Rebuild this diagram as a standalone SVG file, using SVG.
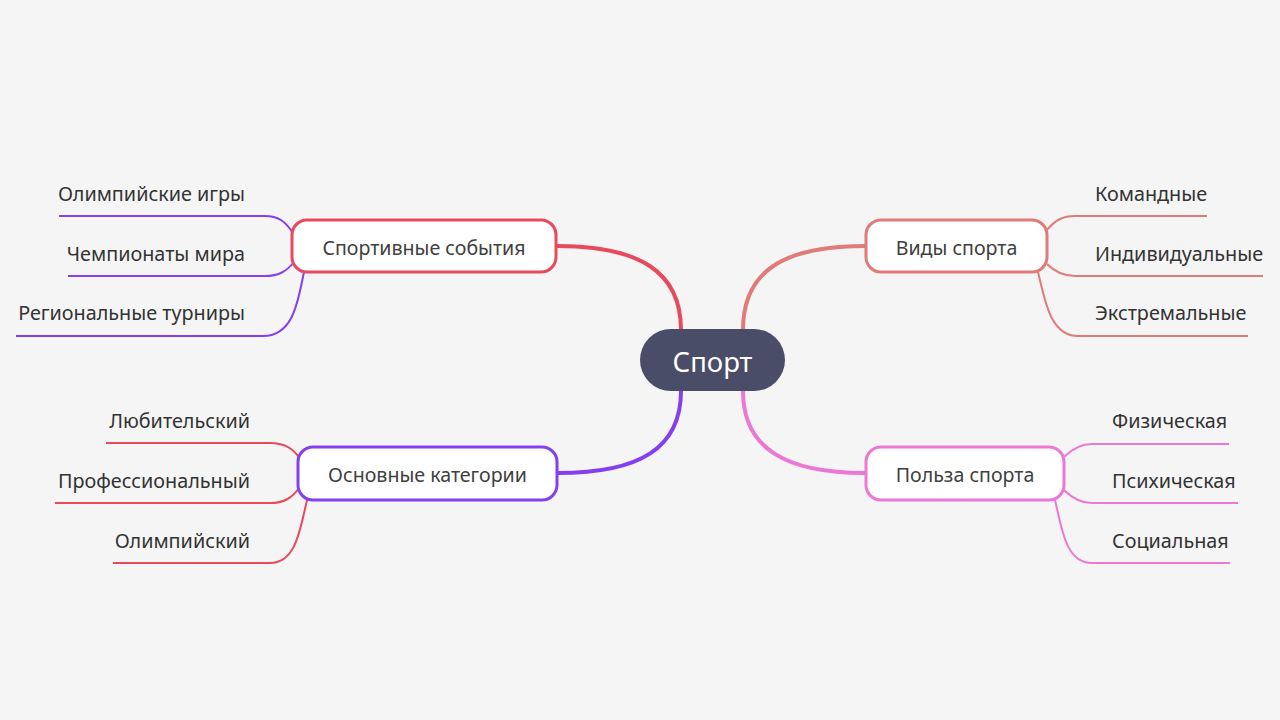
<svg xmlns="http://www.w3.org/2000/svg" width="1280" height="720" viewBox="0 0 1280 720">
<style>
text{font-family:"Noto Sans","Open Sans","Liberation Sans",sans-serif;fill:#333333}
.leaf{font-size:19.8px}
.main{font-size:19.6px;text-anchor:middle;fill:#404040}
.r{text-anchor:end}
.box{fill:#ffffff;stroke-width:3}
.trunk{fill:none;stroke-width:4;stroke-linecap:round}
.twig{fill:none;stroke-width:2}
.red{stroke:#e84a5c}
.sal{stroke:#e07b78}
.pur{stroke:#8440f0}
.pnk{stroke:#ec78d6}
</style>
<rect width="1280" height="720" fill="#f5f5f5"/>
<g id="connectors">
<path class="trunk red" d="M557,246 C640,246 681,272 681,330"/>
<path class="trunk sal" d="M865,246 C782,246 743,272 743,330"/>
<path class="trunk pur" d="M681,391 C681,448 640,473 558,473"/>
<path class="trunk pnk" d="M743,391 C743,448 785,473 865,473"/>
<path class="twig pur" d="M293,233 C285,221 278,216 265,216 H59"/>
<path class="twig pur" d="M294,262 C286,272 278,276 265,276 H68"/>
<path class="twig pur" d="M304,272 C298,300 294,336 263,336 H16"/>
<path class="twig sal" d="M1047,230 C1055,220 1063,216 1075,216 H1207"/>
<path class="twig sal" d="M1047,264 C1055,272 1063,276 1075,276 H1263"/>
<path class="twig sal" d="M1038,272 C1045,300 1050,336 1078,336 H1248"/>
<path class="twig red" d="M299,457 C292,448 284,443 270,443 H106"/>
<path class="twig red" d="M299,488 C292,498 284,503 270,503 H55"/>
<path class="twig red" d="M307,500 C300,530 296,563 270,563 H113"/>
<path class="twig pnk" d="M1064,457 C1072,449 1080,444 1092,444 H1229"/>
<path class="twig pnk" d="M1064,490 C1072,498 1080,503 1092,503 H1238"/>
<path class="twig pnk" d="M1055,500 C1062,530 1066,563 1092,563 H1230"/>
</g>
<g id="root">
<rect x="640" y="329" width="145" height="62" rx="31" fill="#4a4d68"/>
<text x="712.5" y="372" font-size="27.5" text-anchor="middle" style="fill:#ffffff">Спорт</text>
</g>
<g id="n-events">
<rect class="box red" x="292" y="220" width="264" height="52" rx="15"/>
<text class="main" x="424" y="254.5">Спортивные события</text>
</g>
<g id="n-kinds">
<rect class="box sal" x="866" y="220" width="181" height="52" rx="15"/>
<text class="main" x="956.5" y="254.5">Виды спорта</text>
</g>
<g id="n-cats">
<rect class="box pur" x="298" y="447" width="259" height="53" rx="15"/>
<text class="main" x="427.5" y="481.5">Основные категории</text>
</g>
<g id="n-benefit">
<rect class="box pnk" x="866" y="447" width="198" height="53" rx="15"/>
<text class="main" x="965" y="481.5">Польза спорта</text>
</g>
<g id="l-events">
<text class="leaf r" x="245" y="201">Олимпийские игры</text>
<text class="leaf r" x="245" y="261">Чемпионаты мира</text>
<text class="leaf r" x="245" y="320">Региональные турниры</text>
</g>
<g id="l-kinds">
<text class="leaf" x="1095" y="201">Командные</text>
<text class="leaf" x="1095" y="261">Индивидуальные</text>
<text class="leaf" x="1095" y="320">Экстремальные</text>
</g>
<g id="l-cats">
<text class="leaf r" x="250" y="428">Любительский</text>
<text class="leaf r" x="250" y="488">Профессиональный</text>
<text class="leaf r" x="250" y="548">Олимпийский</text>
</g>
<g id="l-benefit">
<text class="leaf" x="1112" y="428">Физическая</text>
<text class="leaf" x="1112" y="488">Психическая</text>
<text class="leaf" x="1112" y="548">Социальная</text>
</g>
</svg>
